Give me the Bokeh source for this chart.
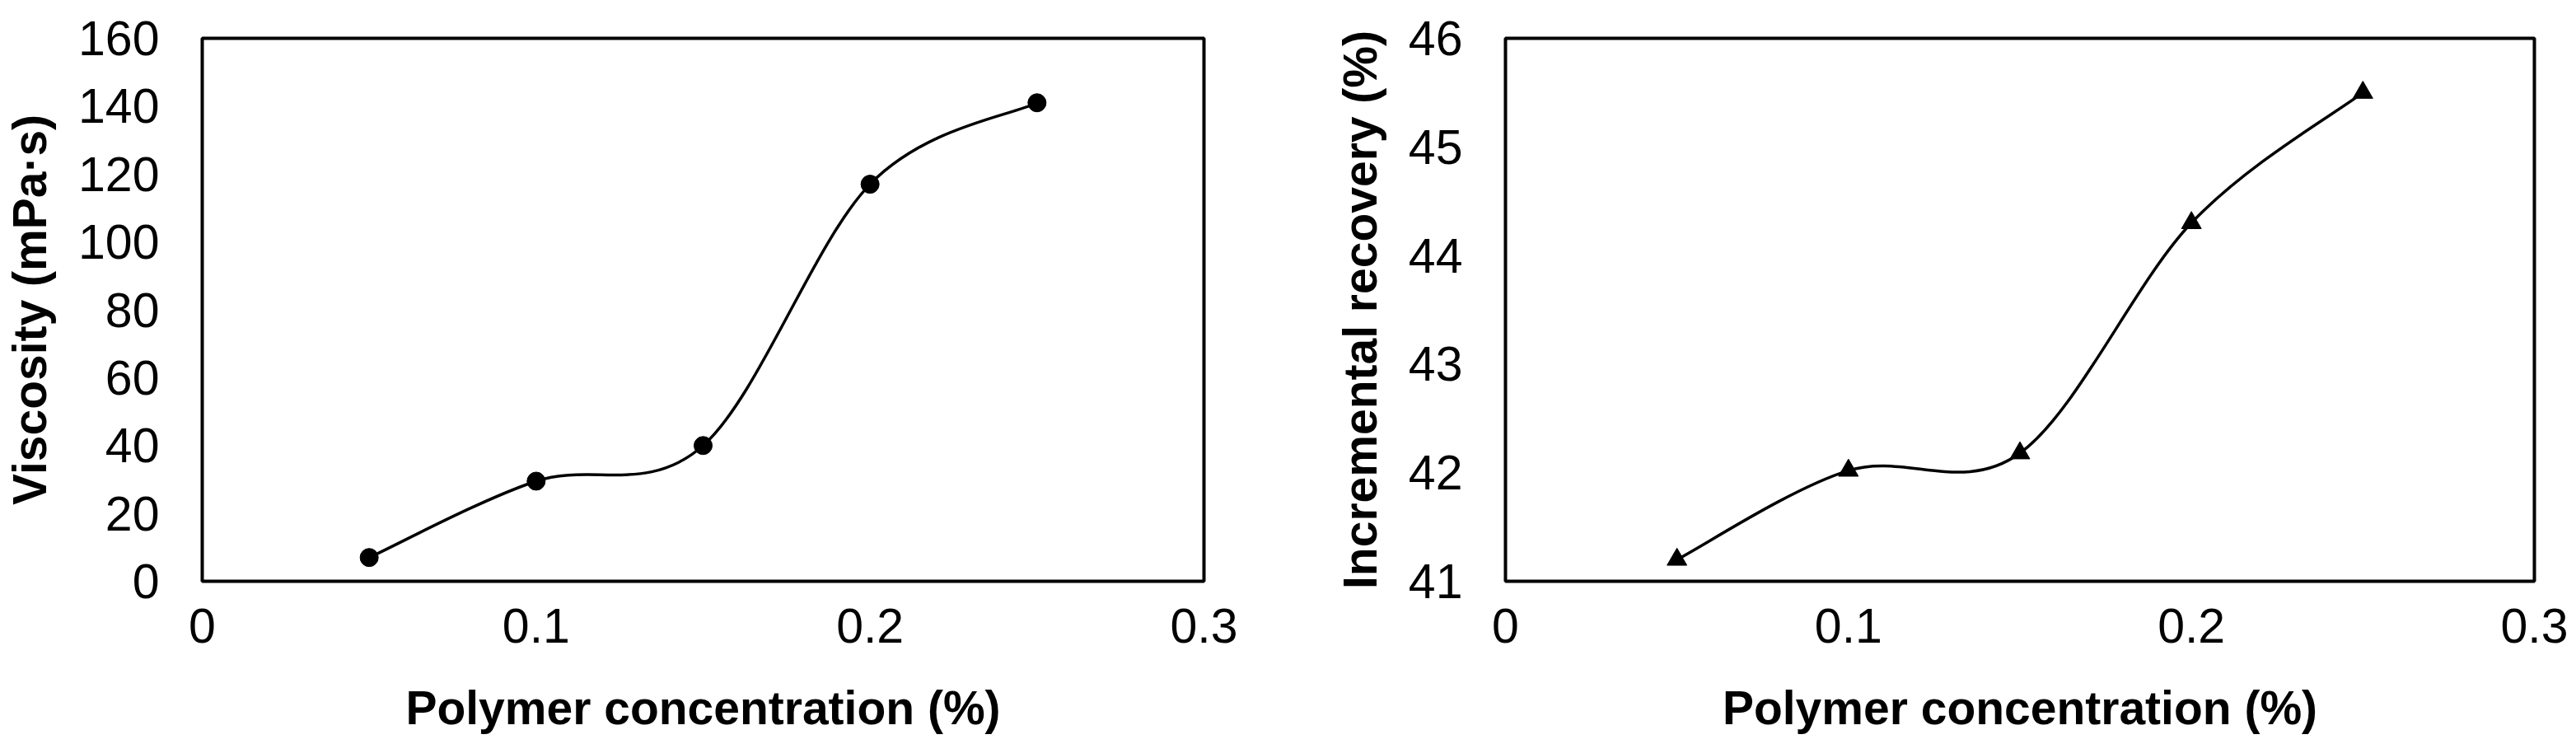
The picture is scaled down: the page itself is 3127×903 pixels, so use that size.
from bokeh.plotting import figure
from bokeh.layouts import row
from bokeh.models import Range1d, FixedTicker
from bokeh.embed import file_html
from bokeh.resources import INLINE

# ---- data ----
conc = [0.05, 0.10, 0.15, 0.20, 0.25]
viscosity = [7.0, 29.5, 40.0, 117.0, 141.0]
recovery = [41.2, 42.02, 42.18, 44.3, 45.5]

x_ticks = [0, 0.1, 0.2, 0.3]
x_tick_labels = ["0", "0.1", "0.2", "0.3"]
visc_ticks = [0, 20, 40, 60, 80, 100, 120, 140, 160]
rec_ticks = [41, 42, 43, 44, 45, 46]

x_title = "Polymer concentration (%)"
visc_title = "Viscosity (mPa·s)"
rec_title = "Incremental recovery (%)"

FONT = "Liberation Sans"
TICK_SIZE = "59px"
TITLE_SIZE = "57px"


def smooth_segments(xs, ys):
    """Catmull-Rom style cubic Bezier control points (Excel-like smoothing)."""
    n = len(xs)
    x0, y0, x1, y1, cx0, cy0, cx1, cy1 = [], [], [], [], [], [], [], []
    for i in range(n - 1):
        ip = max(i - 1, 0)
        inn = min(i + 2, n - 1)
        x0.append(xs[i]); y0.append(ys[i])
        x1.append(xs[i + 1]); y1.append(ys[i + 1])
        cx0.append(xs[i] + (xs[i + 1] - xs[ip]) / 6.0)
        cy0.append(ys[i] + (ys[i + 1] - ys[ip]) / 6.0)
        cx1.append(xs[i + 1] - (xs[inn] - xs[i]) / 6.0)
        cy1.append(ys[i + 1] - (ys[inn] - ys[i]) / 6.0)
    return dict(x0=x0, y0=y0, x1=x1, y1=y1, cx0=cx0, cy0=cy0, cx1=cx1, cy1=cy1)


def make_fig(width, ys, ylo, yhi, yticks, ytitle, marker, msize, mbl, mbr):
    p = figure(width=width, height=900, output_backend="svg", toolbar_location=None,
               x_range=Range1d(0, 0.3), y_range=Range1d(ylo, yhi),
               min_border_left=mbl, min_border_right=mbr,
               min_border_top=46, min_border_bottom=195)
    p.grid.visible = False
    p.outline_line_color = "black"
    p.outline_line_width = 4
    p.background_fill_color = "white"
    p.border_fill_color = "white"

    seg = smooth_segments(conc, ys)
    p.bezier(x0=seg["x0"], y0=seg["y0"], x1=seg["x1"], y1=seg["y1"],
             cx0=seg["cx0"], cy0=seg["cy0"], cx1=seg["cx1"], cy1=seg["cy1"],
             line_color="black", line_width=3.5)
    p.scatter(conc, ys, marker=marker, size=msize, fill_color="black", line_color="black")

    for ax in (p.xaxis[0], p.yaxis[0]):
        ax.axis_line_color = None
        ax.major_tick_line_color = None
        ax.minor_tick_line_color = None
        ax.major_tick_out = 0
        ax.major_tick_in = 0
        ax.minor_tick_out = 0
        ax.major_label_text_font = FONT
        ax.major_label_text_font_size = TICK_SIZE
        ax.major_label_text_color = "black"
        ax.axis_label_text_font = FONT
        ax.axis_label_text_font_size = TITLE_SIZE
        ax.axis_label_text_font_style = "bold"
        ax.axis_label_text_color = "black"

    p.xaxis.ticker = FixedTicker(ticks=x_ticks)
    p.xaxis.major_label_overrides = {t: l for t, l in zip(x_ticks, x_tick_labels)}
    p.xaxis.axis_label = x_title
    p.xaxis.major_label_standoff = 33
    p.xaxis.axis_label_standoff = 44

    p.yaxis.ticker = FixedTicker(ticks=yticks)
    p.yaxis.axis_label = ytitle
    p.yaxis.major_label_standoff = 52
    p.yaxis.axis_label_standoff = 24
    return p


p1 = make_fig(1560, viscosity, 0, 160, visc_ticks, visc_title, "circle", 22, 245, 99)
p2 = make_fig(1560, recovery, 41, 46, rec_ticks, rec_title, "triangle", 24, 267, 44)

layout = row(p1, p2, spacing=0)
open("out.html", "w").write(file_html(layout, INLINE))
